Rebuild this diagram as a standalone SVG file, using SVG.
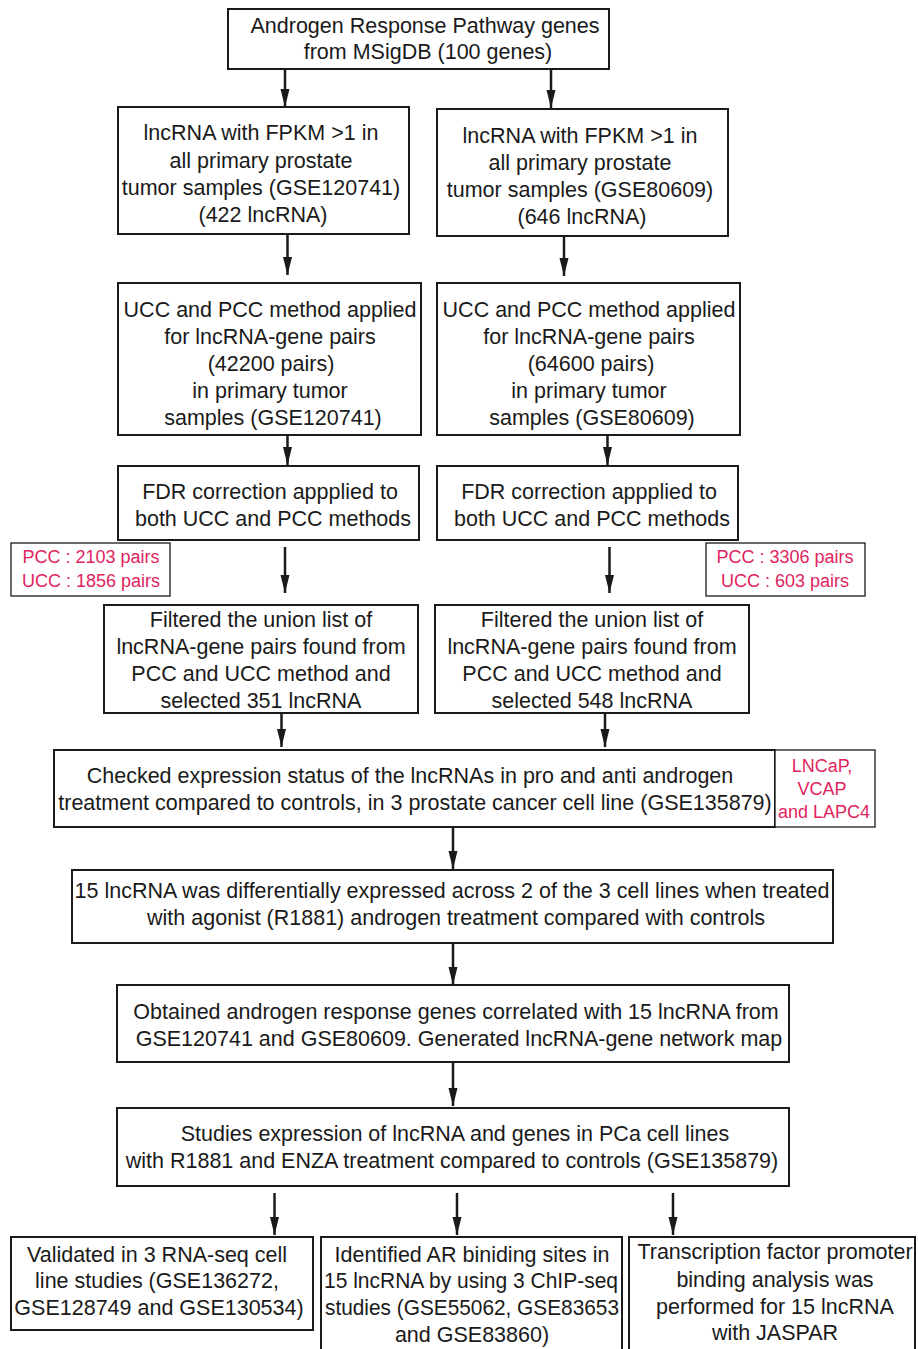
<svg xmlns="http://www.w3.org/2000/svg" width="918" height="1349" viewBox="0 0 918 1349">
<defs>
<marker id="ah" markerWidth="18" markerHeight="10" refX="18" refY="5" orient="auto" markerUnits="userSpaceOnUse" viewBox="0 0 18 10">
<path d="M0,0.5 L18,5 L0,9.5 Z" fill="#1a1a1a"/>
</marker>
<style>
.b{fill:#fff;stroke:#1a1a1a;stroke-width:2}
.p{fill:#fff;stroke:#1a1a1a;stroke-width:1.3}
.t{font-family:"Liberation Sans",Arial,sans-serif;font-size:21.5px;fill:#1a1a1a;text-anchor:middle}
.r{font-family:"Liberation Sans",Arial,sans-serif;font-size:18px;fill:#e0245e;text-anchor:middle}
.c line{stroke:#1a1a1a;stroke-width:2.5;marker-end:url(#ah)}
</style>
</defs>
<rect width="918" height="1349" fill="#fff"/>
<g class="c" id="connectors">
<line x1="285" y1="69" x2="285" y2="107"/>
<line x1="551" y1="69" x2="551" y2="108"/>
<line x1="287.5" y1="234" x2="287.5" y2="275"/>
<line x1="564" y1="236" x2="564" y2="276"/>
<line x1="287.5" y1="435" x2="287.5" y2="465"/>
<line x1="607.5" y1="435" x2="607.5" y2="465"/>
<line x1="285" y1="547" x2="285" y2="593"/>
<line x1="609.5" y1="547" x2="609.5" y2="593"/>
<line x1="281.5" y1="713" x2="281.5" y2="747"/>
<line x1="605" y1="713" x2="605" y2="747"/>
<line x1="453" y1="827" x2="453" y2="869"/>
<line x1="453" y1="943" x2="453" y2="985"/>
<line x1="453" y1="1062" x2="453" y2="1106"/>
<line x1="274.5" y1="1193" x2="274.5" y2="1235"/>
<line x1="457" y1="1193" x2="457" y2="1235"/>
<line x1="673" y1="1193" x2="673" y2="1235"/>
</g>
<g id="n1"><rect class="b" x="228" y="9" width="381" height="60"/>
<text class="t" x="425" y="33">Androgen Response Pathway genes</text>
<text class="t" x="428" y="59">from MSigDB (100 genes)</text></g>
<g id="n2a"><rect class="b" x="118" y="107" width="291" height="127"/>
<text class="t" x="261" y="140">lncRNA with FPKM &gt;1 in</text>
<text class="t" x="261" y="168">all primary prostate</text>
<text class="t" x="261" y="195">tumor samples (GSE120741)</text>
<text class="t" x="263" y="222">(422 lncRNA)</text></g>
<g id="n2b"><rect class="b" x="437" y="109" width="291" height="127"/>
<text class="t" x="580" y="143">lncRNA with FPKM &gt;1 in</text>
<text class="t" x="580" y="170">all primary prostate</text>
<text class="t" x="580" y="197">tumor samples (GSE80609)</text>
<text class="t" x="582" y="224">(646 lncRNA)</text></g>
<g id="n3a"><rect class="b" x="118" y="283" width="303" height="152"/>
<text class="t" x="270" y="317">UCC and PCC method applied</text>
<text class="t" x="270" y="344">for lncRNA-gene pairs</text>
<text class="t" x="271" y="371">(42200 pairs)</text>
<text class="t" x="270" y="398">in primary tumor</text>
<text class="t" x="273" y="425">samples (GSE120741)</text></g>
<g id="n3b"><rect class="b" x="437" y="283" width="303" height="152"/>
<text class="t" x="589" y="317">UCC and PCC method applied</text>
<text class="t" x="589" y="344">for lncRNA-gene pairs</text>
<text class="t" x="591" y="371">(64600 pairs)</text>
<text class="t" x="589" y="398">in primary tumor</text>
<text class="t" x="592" y="425">samples (GSE80609)</text></g>
<g id="n4a"><rect class="b" x="118" y="466" width="301" height="74"/>
<text class="t" x="270" y="499">FDR correction appplied to</text>
<text class="t" x="273" y="526">both UCC and PCC methods</text></g>
<g id="n4b"><rect class="b" x="437" y="466" width="301" height="74"/>
<text class="t" x="589" y="499">FDR correction appplied to</text>
<text class="t" x="592" y="526">both UCC and PCC methods</text></g>
<g id="p1"><rect class="p" x="11" y="543" width="159" height="53"/>
<text class="r" x="91" y="563">PCC : 2103 pairs</text>
<text class="r" x="91" y="587">UCC : 1856 pairs</text></g>
<g id="p2"><rect class="p" x="706" y="543" width="159" height="53"/>
<text class="r" x="785" y="563">PCC : 3306 pairs</text>
<text class="r" x="785" y="587">UCC : 603 pairs</text></g>
<g id="n5a"><rect class="b" x="104" y="605" width="314" height="108"/>
<text class="t" x="261" y="627">Filtered the union list of</text>
<text class="t" x="261" y="654">lncRNA-gene pairs found from</text>
<text class="t" x="261" y="681">PCC and UCC method and</text>
<text class="t" x="261" y="708">selected 351 lncRNA</text></g>
<g id="n5b"><rect class="b" x="435" y="605" width="314" height="108"/>
<text class="t" x="592" y="627">Filtered the union list of</text>
<text class="t" x="592" y="654">lncRNA-gene pairs found from</text>
<text class="t" x="592" y="681">PCC and UCC method and</text>
<text class="t" x="592" y="708">selected 548 lncRNA</text></g>
<g id="n6"><rect class="b" x="54" y="750" width="721" height="77"/>
<text class="t" x="410" y="783">Checked expression status of the lncRNAs in pro and anti androgen</text>
<text class="t" x="415" y="810">treatment compared to controls, in 3 prostate cancer cell line (GSE135879)</text></g>
<g id="p3"><rect class="p" x="775" y="750" width="100" height="77"/>
<text class="r" x="822" y="772">LNCaP,</text>
<text class="r" x="822" y="795">VCAP</text>
<text class="r" x="824" y="818">and LAPC4</text></g>
<g id="n7"><rect class="b" x="72" y="870" width="761" height="73"/>
<text class="t" x="452" y="898">15 lncRNA was differentially expressed across 2 of the 3 cell lines when treated</text>
<text class="t" x="456" y="925">with agonist (R1881) androgen treatment compared with controls</text></g>
<g id="n8"><rect class="b" x="117" y="985" width="672" height="77"/>
<text class="t" x="456" y="1019">Obtained androgen response genes correlated with 15 lncRNA from</text>
<text class="t" x="459" y="1046">GSE120741 and GSE80609. Generated lncRNA-gene network map</text></g>
<g id="n9"><rect class="b" x="117" y="1108" width="672" height="78"/>
<text class="t" x="455" y="1141">Studies expression of lncRNA and genes in PCa cell lines</text>
<text class="t" x="452" y="1168">with R1881 and ENZA treatment compared to controls (GSE135879)</text></g>
<g id="n10a"><rect class="b" x="11" y="1237" width="302" height="93"/>
<text class="t" x="157" y="1262">Validated in 3 RNA-seq cell</text>
<text class="t" x="157" y="1288">line studies (GSE136272,</text>
<text class="t" x="159" y="1315">GSE128749 and GSE130534)</text></g>
<g id="n10b"><rect class="b" x="321" y="1237" width="301" height="115"/>
<text class="t" x="472" y="1262">Identified AR biniding sites in</text>
<text class="t" x="471" y="1288" textLength="294" lengthAdjust="spacingAndGlyphs">15 lncRNA by using 3 ChIP-seq</text>
<text class="t" x="472" y="1315" textLength="294" lengthAdjust="spacingAndGlyphs">studies (GSE55062, GSE83653</text>
<text class="t" x="472" y="1342">and GSE83860)</text></g>
<g id="n10c"><rect class="b" x="629" y="1237" width="286" height="115"/>
<text class="t" x="775" y="1259">Transcription factor promoter</text>
<text class="t" x="775" y="1287">binding analysis was</text>
<text class="t" x="775" y="1314">performed for 15 lncRNA</text>
<text class="t" x="775" y="1340">with JASPAR</text></g>
</svg>
